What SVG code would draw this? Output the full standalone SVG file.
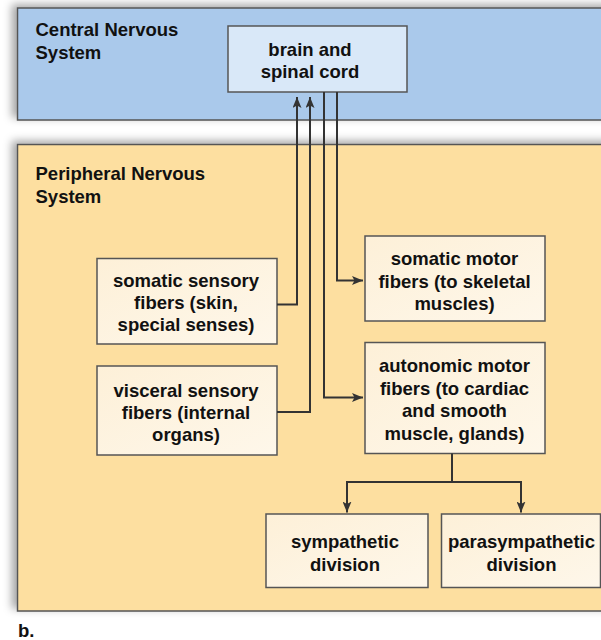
<svg xmlns="http://www.w3.org/2000/svg" width="601" height="640" viewBox="0 0 601 640">
<defs>
<filter id="sh" x="-10%" y="-20%" width="130%" height="140%">
<feDropShadow dx="-5" dy="-3" stdDeviation="4" flood-color="#000" flood-opacity="0.35"/>
</filter>
<linearGradient id="boxg" x1="0" y1="0" x2="1" y2="1">
<stop offset="0" stop-color="#fdf0d8"/>
<stop offset="1" stop-color="#fef7ea"/>
</linearGradient>
<marker id="ah" markerUnits="userSpaceOnUse" markerWidth="12" markerHeight="9" refX="11" refY="4.5" orient="auto">
<path d="M0,0 L11,4.5 L0,9 L2.5,4.5 z" fill="#333"/>
</marker>
<style>
.panel{stroke:#555;stroke-width:1.5}
.box{fill:url(#boxg);stroke:#555;stroke-width:1.5}
.t{font-family:"Liberation Sans",Arial,Helvetica,sans-serif;font-weight:bold;font-size:18.5px;fill:#111}
.c{text-anchor:middle}
.ln{fill:none;stroke:#333;stroke-width:2}
</style>
</defs>
<rect width="601" height="640" fill="#fff"/>

<g id="cns">
<rect class="panel" x="17.5" y="8" width="600" height="112" fill="#aac9eb" filter="url(#sh)"/>
<text class="t" x="35.5" y="36">Central Nervous</text>
<text class="t" x="35.5" y="58.5">System</text>
</g>

<g id="pns">
<rect class="panel" x="17.5" y="144.5" width="600" height="466.5" fill="#fddfa0" filter="url(#sh)"/>
<text class="t" x="35.5" y="180">Peripheral Nervous</text>
<text class="t" x="35.5" y="202.5">System</text>
</g>

<g id="brain">
<rect x="228" y="26" width="179" height="66" fill="#d9e8f8" stroke="#555" stroke-width="1.5"/>
<text class="t c" x="310" y="56">brain and</text>
<text class="t c" x="310" y="78">spinal cord</text>
</g>

<g id="somatic-sensory">
<rect class="box" x="97" y="258.5" width="180" height="85.5"/>
<text class="t c" x="186" y="287">somatic sensory</text>
<text class="t c" x="186" y="309">fibers (skin,</text>
<text class="t c" x="186" y="331">special senses)</text>
</g>

<g id="visceral-sensory">
<rect class="box" x="97" y="366" width="180" height="89"/>
<text class="t c" x="186" y="397">visceral sensory</text>
<text class="t c" x="186" y="419">fibers (internal</text>
<text class="t c" x="186" y="441">organs)</text>
</g>

<g id="somatic-motor">
<rect class="box" x="365" y="236" width="180" height="85"/>
<text class="t c" x="454.5" y="265">somatic motor</text>
<text class="t c" x="454.5" y="287.5">fibers (to skeletal</text>
<text class="t c" x="454.5" y="310">muscles)</text>
</g>

<g id="autonomic-motor">
<rect class="box" x="365" y="342.5" width="180" height="111"/>
<text class="t c" x="454.5" y="372">autonomic motor</text>
<text class="t c" x="454.5" y="394.5">fibers (to cardiac</text>
<text class="t c" x="454.5" y="417">and smooth</text>
<text class="t c" x="454.5" y="439.5">muscle, glands)</text>
</g>

<g id="sympathetic">
<rect class="box" x="266" y="514" width="162" height="73.5"/>
<text class="t c" x="345" y="547.5">sympathetic</text>
<text class="t c" x="345" y="570.5">division</text>
</g>

<g id="parasympathetic">
<rect class="box" x="441.5" y="514" width="159" height="73.5"/>
<text class="t c" x="521.5" y="547.5">parasympathetic</text>
<text class="t c" x="521.5" y="570.5">division</text>
</g>

<g id="connectors">
<polyline class="ln" points="277,304.5 297,304.5 297,97" marker-end="url(#ah)"/>
<polyline class="ln" points="277,412 310,412 310,97" marker-end="url(#ah)"/>
<polyline class="ln" points="337,92 337,280.5 363,280.5" marker-end="url(#ah)"/>
<polyline class="ln" points="324,92 324,397.5 363,397.5" marker-end="url(#ah)"/>
<polyline class="ln" points="452,453.5 452,482"/>
<polyline class="ln" points="347,482 521,482"/>
<polyline class="ln" points="347,481 347,512.5" marker-end="url(#ah)"/>
<polyline class="ln" points="521,481 521,512.5" marker-end="url(#ah)"/>
</g>

<text class="t" x="18" y="637">b.</text>
</svg>
